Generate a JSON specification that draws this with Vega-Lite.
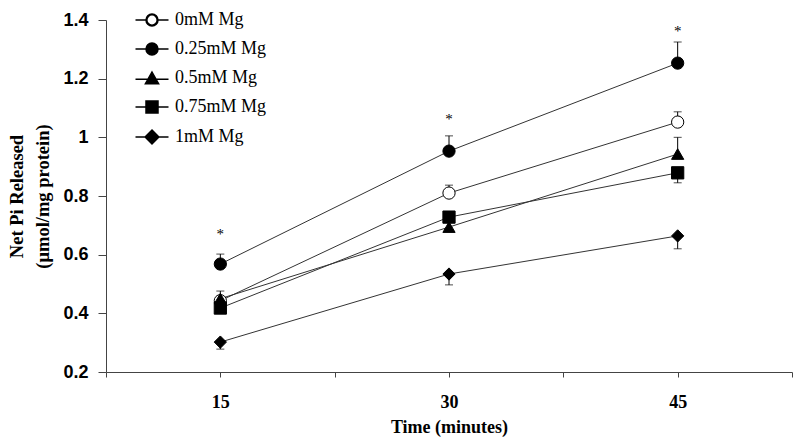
{
  "$schema": "https://vega.github.io/schema/vega-lite/v6.json",
  "width": 686,
  "height": 352,
  "autosize": {"type": "none"},
  "padding": {"left": 106, "top": 20, "right": 8, "bottom": 73},
  "background": "white",
  "config": {"view": {"stroke": null}, "axis": {"grid": false}},
  "datasets": {
    "points": [
      {"time": 15, "series": "0mM Mg", "value": 0.443},
      {"time": 30, "series": "0mM Mg", "value": 0.81},
      {"time": 45, "series": "0mM Mg", "value": 1.052},
      {"time": 15, "series": "0.25mM Mg", "value": 0.568},
      {"time": 30, "series": "0.25mM Mg", "value": 0.953},
      {"time": 45, "series": "0.25mM Mg", "value": 1.253},
      {"time": 15, "series": "0.5mM Mg", "value": 0.45},
      {"time": 30, "series": "0.5mM Mg", "value": 0.694},
      {"time": 45, "series": "0.5mM Mg", "value": 0.943},
      {"time": 15, "series": "0.75mM Mg", "value": 0.418},
      {"time": 30, "series": "0.75mM Mg", "value": 0.728},
      {"time": 45, "series": "0.75mM Mg", "value": 0.879},
      {"time": 15, "series": "1mM Mg", "value": 0.302},
      {"time": 30, "series": "1mM Mg", "value": 0.534},
      {"time": 45, "series": "1mM Mg", "value": 0.664}
    ],
    "errors": [
      {"time": 15, "series": "0.25mM Mg", "value": 0.568, "end": 0.602},
      {"time": 15, "series": "0.5mM Mg", "value": 0.45, "end": 0.476},
      {"time": 15, "series": "1mM Mg", "value": 0.302, "end": 0.278},
      {"time": 30, "series": "0.25mM Mg", "value": 0.953, "end": 1.005},
      {"time": 30, "series": "0mM Mg", "value": 0.81, "end": 0.837},
      {"time": 30, "series": "1mM Mg", "value": 0.534, "end": 0.497},
      {"time": 45, "series": "0.25mM Mg", "value": 1.253, "end": 1.325},
      {"time": 45, "series": "0mM Mg", "value": 1.052, "end": 1.087},
      {"time": 45, "series": "0.5mM Mg", "value": 0.943, "end": 1.0},
      {"time": 45, "series": "0.75mM Mg", "value": 0.879, "end": 0.845},
      {"time": 45, "series": "1mM Mg", "value": 0.664, "end": 0.62}
    ],
    "stars": [
      {"time": 15, "value": 0.677, "label": "*"},
      {"time": 30, "value": 1.07, "label": "*"},
      {"time": 45, "value": 1.37, "label": "*"}
    ]
  },
  "encoding": {
    "x": {
      "field": "time",
      "type": "quantitative",
      "scale": {"domain": [7.5, 52.5], "nice": false, "zero": false},
      "axis": {
        "values": [7.5, 15, 22.5, 30, 37.5, 45, 52.5],
        "labelExpr": "datum.value % 15 === 0 ? datum.label : ''",
        "title": "Time (minutes)",
        "domainColor": "#444444",
        "tickColor": "#444444",
        "tickSize": 5,
        "labelPadding": 16,
        "labelFont": "Liberation Serif",
        "labelFontWeight": "bold",
        "labelFontSize": 18,
        "labelColor": "black",
        "titleFont": "Liberation Serif",
        "titleFontWeight": "bold",
        "titleFontSize": 18,
        "titleColor": "black",
        "titlePadding": 7
      }
    },
    "y": {
      "field": "value",
      "type": "quantitative",
      "scale": {"domain": [0.2, 1.4], "nice": false, "zero": false},
      "axis": {
        "values": [0.2, 0.4, 0.6, 0.8, 1.0, 1.2, 1.4],
        "format": ".1~f",
        "title": ["Net Pi Released", "(μmol/mg protein)"],
        "domainColor": "#444444",
        "tickColor": "#444444",
        "tickSize": 8,
        "labelPadding": 10,
        "labelFont": "Liberation Sans",
        "labelFontWeight": "bold",
        "labelFontSize": 18,
        "labelColor": "black",
        "titleFont": "Liberation Serif",
        "titleFontWeight": "bold",
        "titleFontSize": 18.5,
        "titleColor": "black",
        "titleLineHeight": 26,
        "titlePadding": 10
      }
    }
  },
  "resolve": {"scale": {"shape": "independent"}, "legend": {"shape": "independent"}},
  "layer": [
    {
      "data": {"name": "points"},
      "mark": {"type": "line", "color": "#333333", "strokeWidth": 1},
      "encoding": {"detail": {"field": "series"}}
    },
    {
      "data": {"name": "errors"},
      "mark": {"type": "rule", "color": "black", "strokeWidth": 1},
      "encoding": {"y2": {"field": "end"}}
    },
    {
      "data": {"name": "errors"},
      "mark": {"type": "tick", "orient": "horizontal", "color": "black", "size": 8, "thickness": 1},
      "encoding": {"y": {"field": "end", "type": "quantitative"}}
    },
    {
      "data": {"name": "points"},
      "mark": {"type": "point", "filled": true, "stroke": "black", "strokeWidth": 1, "opacity": 1, "size": 150},
      "encoding": {
        "shape": {
          "field": "series",
          "type": "nominal",
          "scale": {
            "domain": ["0mM Mg", "0.25mM Mg", "0.5mM Mg", "0.75mM Mg", "1mM Mg"],
            "range": ["circle", "circle", "triangle-up", "square", "diamond"]
          },
          "legend": null
        },
        "fill": {
          "field": "series",
          "type": "nominal",
          "scale": {
            "domain": ["0mM Mg", "0.25mM Mg", "0.5mM Mg", "0.75mM Mg", "1mM Mg"],
            "range": ["white", "black", "black", "black", "black"]
          },
          "legend": null
        }
      }
    },
    {
      "data": {"name": "points"},
      "mark": {"type": "point", "filled": true, "fill": "black", "stroke": "black", "strokeWidth": 1, "opacity": 0, "size": 144},
      "encoding": {
        "shape": {
          "field": "series",
          "type": "nominal",
          "scale": {
            "domain": ["0mM Mg", "0.25mM Mg", "0.5mM Mg", "0.75mM Mg", "1mM Mg"],
            "range": [
              "M-2.75,0L-1,0M1,0L2.75,0M-1,0A1,1,0,1,1,1,0A1,1,0,1,1,-1,0ZM-0.86,0A0.86,0.86,0,1,0,0.86,0A0.86,0.86,0,1,0,-0.86,0Z",
              "M-2.75,0L2.75,0M-1,0A1,1,0,1,1,1,0A1,1,0,1,1,-1,0Z",
              "M-2.75,0.2L2.75,0.2M0,-1L1.1,0.95L-1.1,0.95Z",
              "M-2.75,0L2.75,0M-1,-1L1,-1L1,1L-1,1Z",
              "M-2.75,0L2.75,0M0,-1.15L1.15,0L0,1.15L-1.15,0Z"
            ]
          },
          "legend": {
            "title": null,
            "orient": "none",
            "legendX": 37,
            "legendY": -9,
            "padding": 0,
            "symbolSize": 144,
            "symbolOpacity": 1,
            "symbolFillColor": "black",
            "labelFont": "Liberation Serif",
            "labelFontSize": 18,
            "labelColor": "black",
            "labelOffset": 14,
            "rowPadding": 11,
            "encode": {
              "symbols": {
                "update": {
                  "opacity": {"value": 1},
                  "stroke": {"value": "black"},
                  "strokeWidth": {"value": 1}
                }
              }
            }
          }
        }
      }
    },
    {
      "data": {"name": "stars"},
      "mark": {"type": "text", "font": "Liberation Serif", "fontSize": 15, "fill": "black", "baseline": "alphabetic", "dy": 7},
      "encoding": {"text": {"field": "label"}}
    }
  ]
}
